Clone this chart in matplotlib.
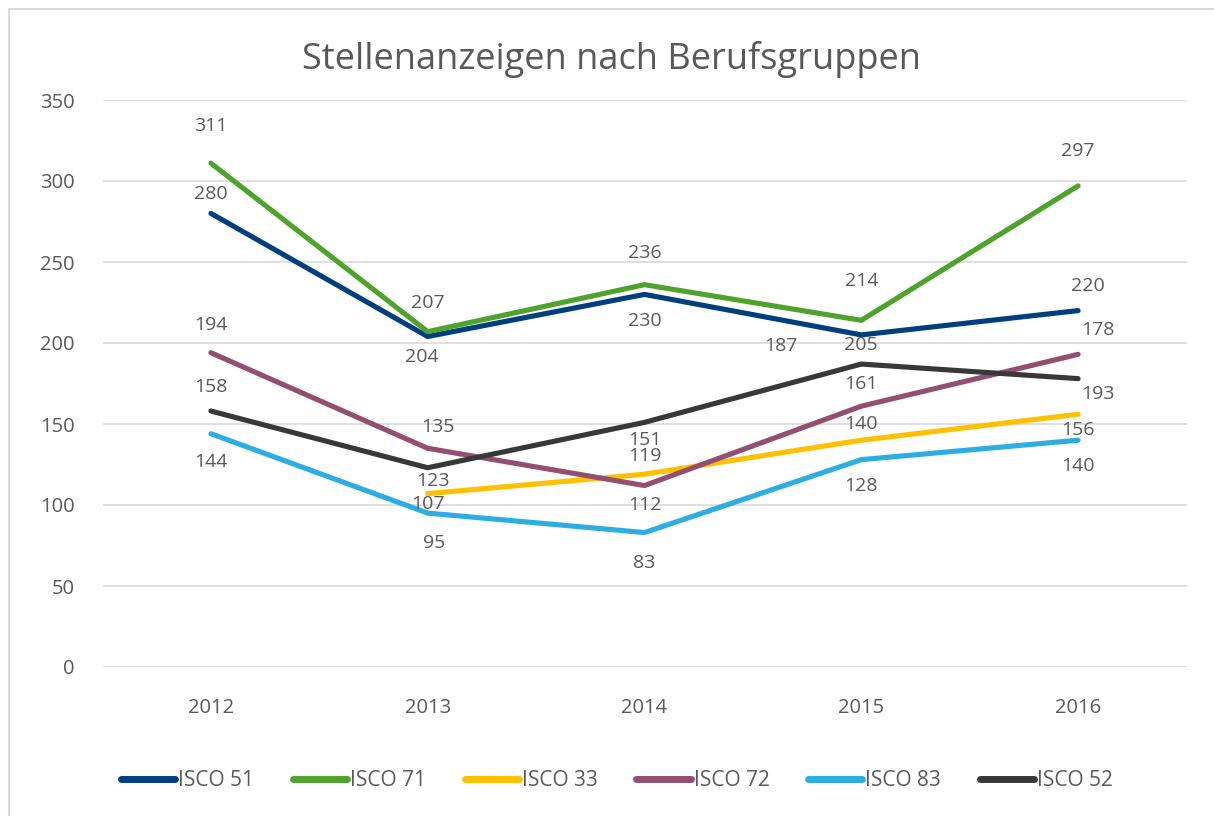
import matplotlib
matplotlib.use("Agg")
import matplotlib.pyplot as plt
from matplotlib.lines import Line2D
import numpy as np

plt.rcParams['font.family'] = ['Open Sans', 'DejaVu Sans']

years = ["2012", "2013", "2014", "2015", "2016"]
series_names = ["ISCO 51", "ISCO 71", "ISCO 33", "ISCO 72", "ISCO 83", "ISCO 52"]
isco51 = [280, 204, 230, 205, 220]
isco71 = [311, 207, 236, 214, 297]
isco33 = [None, 107, 119, 140, 156]
isco72 = [194, 135, 112, 161, 193]
isco83 = [144, 95, 83, 128, 140]
isco52 = [158, 123, 151, 187, 178]
colors = ["#003F7D", "#4EA32B", "#FFC000", "#934E72", "#2CADE3", "#383838"]

# label offsets in pixels (dx, dy) for each series/year
label_offsets = {
    "ISCO 51": [(0, 19), (-6, -20), (0, -27), (0, -10), (10, 25)],
    "ISCO 71": [(0, 37), (0, 29), (0, 32), (0, 39), (0, 35)],
    "ISCO 33": [None, (0, -10), (0, 18), (0, 16), (0, -16)],
    "ISCO 72": [(0, 28), (10, 21), (0, -19), (0, 22), (20, -40)],
    "ISCO 52": [(0, 24), (5, -13), (0, -18), (-80, 18), (20, 49)],
    "ISCO 83": [(0, -28), (6, -30), (0, -30), (0, -26), (0, -26)],
}

data = [isco51, isco71, isco33, isco72, isco83, isco52]

fig = plt.figure(figsize=(12.14, 8.16), dpi=100)
ax = fig.add_axes([102.5 / 1214, (816 - 667) / 816, 1084 / 1214, 567 / 816])

# outer frame (left and top edges visible)
fig.add_artist(plt.Rectangle((9 / 1214, -0.1), 1.2, (816 - 9) / 816 + 0.1,
                             transform=fig.transFigure, fill=False,
                             edgecolor="#D9D9D9", linewidth=1.5))

x = np.arange(len(years))
text_col = "#595959"
for name, vals, col in zip(series_names, data, colors):
    xs = [xi for xi, v in zip(x, vals) if v is not None]
    ys = [v for v in vals if v is not None]
    ax.plot(xs, ys, color=col, linewidth=3.7, solid_capstyle='round',
            solid_joinstyle='round', zorder=3)
    for xi, v, off in zip(x, vals, label_offsets[name]):
        if v is None:
            continue
        ax.annotate(str(v), (xi, v), xytext=off, textcoords='offset pixels',
                    ha='center', va='center', fontsize=14, color=text_col,
                    zorder=4)

ax.set_xlim(-0.5, 4.5)
ax.set_ylim(0, 350)
ax.set_yticks(range(0, 351, 50))
ax.set_xticks(x)
ax.set_xticklabels(years)
ax.grid(axis='y', color="#D9D9D9", linewidth=1.2)
ax.set_axisbelow(True)
for s in ax.spines.values():
    s.set_visible(False)
ax.tick_params(axis='both', length=0, labelsize=14.5, labelcolor=text_col)
ax.tick_params(axis='y', pad=20)
ax.tick_params(axis='x', pad=22)

fig.text(0.5 + 4 / 1214, 1 - 60 / 816, "Stellenanzeigen nach Berufsgruppen",
         ha='center', va='center', fontsize=26, color=text_col)

handles = [Line2D([0], [0], color=c, linewidth=5, solid_capstyle='round')
           for c in colors]
fig.legend(handles, series_names, loc='center',
           bbox_to_anchor=(0.5 + 10 / 1214, 1 - 781 / 816),
           ncol=6, frameon=False, fontsize=15, labelcolor=text_col,
           handlelength=2.6, handletextpad=0.15, columnspacing=1.85)

fig.savefig("out.png", dpi=100)
